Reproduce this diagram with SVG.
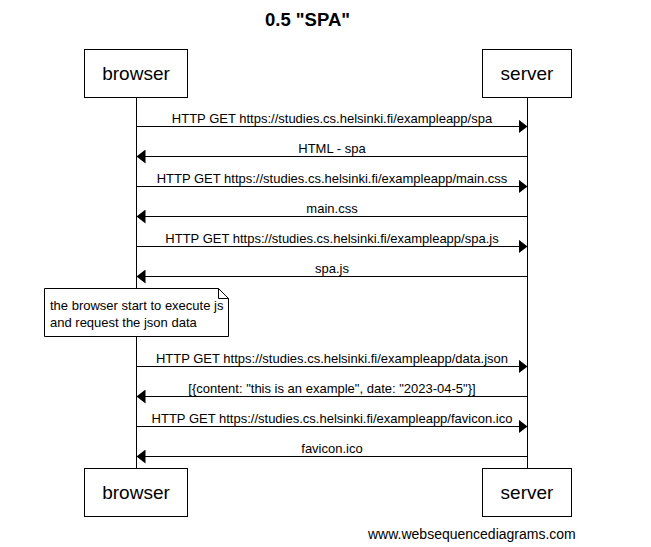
<svg xmlns="http://www.w3.org/2000/svg" width="651" height="547" viewBox="0 0 651 547">
<defs>
<style>
text{font-family:"Liberation Sans",Arial,sans-serif;fill:#000}
.title{font-size:18.5px;font-weight:bold;text-anchor:middle}
.actor{font-size:19px;text-anchor:middle}
.msg{font-size:13px;text-anchor:middle}
.note{font-size:13px}
.foot{font-size:14px}
.box{fill:#fff;stroke:#000;stroke-width:1}
.life{stroke:#000;stroke-width:1;fill:none}
.arr{stroke:#000;stroke-width:1;fill:none}
</style>
<marker id="ah" markerWidth="10" markerHeight="14" refX="9" refY="7" orient="auto" markerUnits="userSpaceOnUse">
<path d="M0,0 L9,7 L0,14 Z" fill="#000"/>
</marker>
</defs>
<rect width="651" height="547" fill="#fff"/>
<text class="title" x="307.5" y="26">0.5 "SPA"</text>
<g id="lifelines">
<line class="life" x1="136.5" y1="97" x2="136.5" y2="468"/>
<line class="life" x1="527.5" y1="97" x2="527.5" y2="468"/>
</g>
<g id="browser-top"><rect class="box" x="84.5" y="49.5" width="103" height="48"/><text class="actor" x="136" y="80">browser</text></g>
<g id="server-top"><rect class="box" x="482.5" y="49.5" width="89" height="48"/><text class="actor" x="527" y="80">server</text></g>
<g id="browser-bottom"><rect class="box" x="84.5" y="468.5" width="103" height="48"/><text class="actor" x="136" y="499">browser</text></g>
<g id="server-bottom"><rect class="box" x="482.5" y="468.5" width="89" height="48"/><text class="actor" x="527" y="499">server</text></g>
<g id="note">
<path class="box" d="M44.5,288.5 L218.5,288.5 L228.5,298.5 L228.5,336.5 L44.5,336.5 Z"/>
<path class="life" d="M218.5,288.5 L218.5,298.5 L228.5,298.5"/>
<text class="note" x="50" y="310">the browser start to execute js</text>
<text class="note" x="50" y="327">and request the json data</text>
</g>
<g id="connectors">
<line class="arr" x1="136.5" y1="126.5" x2="527.5" y2="126.5" marker-end="url(#ah)"/>
<text class="msg" x="332" y="123">HTTP GET https://studies.cs.helsinki.fi/exampleapp/spa</text>
<line class="arr" x1="527.5" y1="156.5" x2="136.5" y2="156.5" marker-end="url(#ah)"/>
<text class="msg" x="332" y="153">HTML - spa</text>
<line class="arr" x1="136.5" y1="186.5" x2="527.5" y2="186.5" marker-end="url(#ah)"/>
<text class="msg" x="332" y="183">HTTP GET https://studies.cs.helsinki.fi/exampleapp/main.css</text>
<line class="arr" x1="527.5" y1="216.5" x2="136.5" y2="216.5" marker-end="url(#ah)"/>
<text class="msg" x="332" y="213">main.css</text>
<line class="arr" x1="136.5" y1="246.5" x2="527.5" y2="246.5" marker-end="url(#ah)"/>
<text class="msg" x="332" y="243">HTTP GET https://studies.cs.helsinki.fi/exampleapp/spa.js</text>
<line class="arr" x1="527.5" y1="276.5" x2="136.5" y2="276.5" marker-end="url(#ah)"/>
<text class="msg" x="332" y="273">spa.js</text>
<line class="arr" x1="136.5" y1="366.5" x2="527.5" y2="366.5" marker-end="url(#ah)"/>
<text class="msg" x="332" y="363">HTTP GET https://studies.cs.helsinki.fi/exampleapp/data.json</text>
<line class="arr" x1="527.5" y1="396.5" x2="136.5" y2="396.5" marker-end="url(#ah)"/>
<text class="msg" x="332" y="393">[{content: "this is an example", date: "2023-04-5"}]</text>
<line class="arr" x1="136.5" y1="426.5" x2="527.5" y2="426.5" marker-end="url(#ah)"/>
<text class="msg" x="332" y="423">HTTP GET https://studies.cs.helsinki.fi/exampleapp/favicon.ico</text>
<line class="arr" x1="527.5" y1="456.5" x2="136.5" y2="456.5" marker-end="url(#ah)"/>
<text class="msg" x="332" y="453">favicon.ico</text>
</g>
<text class="foot" x="368" y="539">www.websequencediagrams.com</text>
</svg>
